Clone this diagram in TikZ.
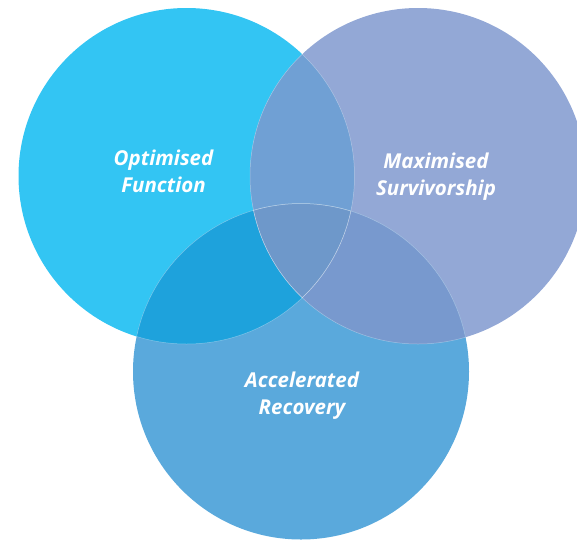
\documentclass[tikz,border=0pt]{standalone}
\usepackage{fontspec}
\setmainfont{Open Sans}
\begin{document}
\definecolor{cLeft}{HTML}{33C5F3}
\definecolor{cRight}{HTML}{93A8D6}
\definecolor{cBottom}{HTML}{5AA9DC}
\definecolor{cLR}{HTML}{70A0D4}
\definecolor{cLB}{HTML}{1EA2DC}
\definecolor{cRB}{HTML}{7899CE}
\definecolor{cLRB}{HTML}{6E98CA}
\begin{tikzpicture}[x=1pt,y=-1pt,
  label text/.style={text=white,font=\fontsize{20.5}{25}\selectfont\bfseries\itshape,anchor=base,inner sep=0pt},
  seam/.style={draw=white,draw opacity=0.35,line width=0.5pt}]
\useasboundingbox (0,0) rectangle (577,541);
\clip (0,0) rectangle (577,541);
\def\R{168}
\coordinate (L) at (186.5,176);
\coordinate (Rt) at (418,176);
\coordinate (B) at (301,371.5);
% base discs
\fill[cLeft] (L) circle (\R);
\fill[cRight] (Rt) circle (\R);
\fill[cBottom] (B) circle (\R);
% pairwise overlaps
\begin{scope}\clip (L) circle (\R); \fill[cLR] (Rt) circle (\R);\end{scope}
\begin{scope}\clip (L) circle (\R); \fill[cLB] (B) circle (\R);\end{scope}
\begin{scope}\clip (Rt) circle (\R); \fill[cRB] (B) circle (\R);\end{scope}
% centre overlap
\begin{scope}\clip (L) circle (\R); \clip (Rt) circle (\R); \fill[cLRB] (B) circle (\R);\end{scope}
% faint seams where the discs cross
\begin{scope}\clip (Rt) circle (\R); \draw[seam] (L) circle (\R);\end{scope}
\begin{scope}\clip (B) circle (\R); \draw[seam] (L) circle (\R);\end{scope}
\begin{scope}\clip (L) circle (\R); \draw[seam] (Rt) circle (\R);\end{scope}
\begin{scope}\clip (B) circle (\R); \draw[seam] (Rt) circle (\R);\end{scope}
\begin{scope}\clip (L) circle (\R); \draw[seam] (B) circle (\R);\end{scope}
\begin{scope}\clip (Rt) circle (\R); \draw[seam] (B) circle (\R);\end{scope}
% labels
\node[label text] (opt) at (163.5,165) {Optimised};
\node[label text] (fun) at (163.5,192) {Function};
\node[label text] (max) at (436,168) {Maximised};
\node[label text] (sur) at (436,195) {Survivorship};
\node[label text] (acc) at (302,387) {Accelerated};
\node[label text] (rec) at (302,414) {Recovery};
\end{tikzpicture}
\end{document}
